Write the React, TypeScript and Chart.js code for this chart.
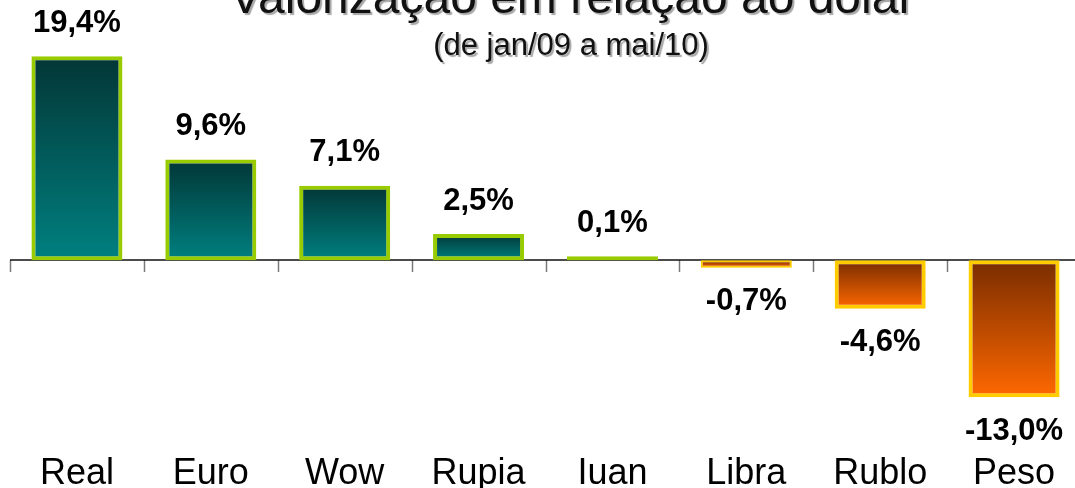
import React, { useEffect, useRef } from "react";
import { Chart, registerables } from "chart.js";

Chart.register(...registerables);

const categories = ["Real", "Euro", "Wow", "Rupia", "Iuan", "Libra", "Rublo", "Peso"];
const values = [19.4, 9.6, 7.1, 2.5, 0.1, -0.7, -4.6, -13.0];
const valueLabels = ["19,4%", "9,6%", "7,1%", "2,5%", "0,1%", "-0,7%", "-4,6%", "-13,0%"];
const titleText = "Valorização em relação ao dólar";
const subtitleText = "(de jan/09 a mai/10)";

const FONT = "'Liberation Sans', Arial, Helvetica, sans-serif";

const overlay = {
  id: "overlay",
  beforeDatasetsDraw(chart: any) {
    const { ctx, chartArea, scales } = chart;
    const x = scales.x;
    const y = scales.y;
    const y0 = Math.round(y.getPixelForValue(0));
    const w = x.getPixelForValue(1) - x.getPixelForValue(0);
    ctx.save();
    ctx.strokeStyle = "#7a7a7a";
    ctx.lineWidth = 1.5;
    for (let i = 0; i <= categories.length; i++) {
      const px = Math.round(x.getPixelForValue(i) - w / 2) + 0.5;
      ctx.beginPath();
      ctx.moveTo(px, y0);
      ctx.lineTo(px, y0 + 12);
      ctx.stroke();
    }
    ctx.strokeStyle = "#111";
    ctx.lineWidth = 1.5;
    ctx.beginPath();
    ctx.moveTo(chartArea.left, y0);
    ctx.lineTo(chartArea.right, y0);
    ctx.stroke();
    ctx.restore();
  },
  afterDatasetsDraw(chart: any) {
    const { ctx } = chart;
    const meta = chart.getDatasetMeta(0);
    ctx.save();
    ctx.fillStyle = "#000";
    ctx.font = `bold 31px ${FONT}`;
    ctx.textAlign = "center";
    ctx.textBaseline = "middle";
    meta.data.forEach((bar: any, i: number) => {
      const v = values[i];
      const ly = v >= 0 ? bar.y - 33 : bar.y + 34;
      ctx.fillText(valueLabels[i], bar.x, ly);
    });
    // titles with shadow
    ctx.shadowColor = "rgba(0,0,0,0.35)";
    ctx.shadowOffsetX = 2;
    ctx.shadowOffsetY = 2;
    ctx.shadowBlur = 1;
    ctx.textBaseline = "alphabetic";
    ctx.fillStyle = "#111";
    ctx.font = `48px ${FONT}`;
    ctx.fillText(titleText, 572, 13);
    ctx.font = `31px ${FONT}`;
    ctx.fillText(subtitleText, 571, 55);
    ctx.restore();
  },
};

function barFill(context: any) {
  const chart = context.chart;
  const { chartArea, scales } = chart;
  const i = context.dataIndex;
  const v = values[i] ?? 0;
  if (!chartArea || !scales || !scales.y) return v >= 0 ? "#006060" : "#c05000";
  const y0 = scales.y.getPixelForValue(0);
  const y1 = scales.y.getPixelForValue(v);
  const top = Math.min(y0, y1);
  const bottom = Math.max(y0, y1, top + 1);
  const g = chart.ctx.createLinearGradient(0, top, 0, bottom);
  if (v >= 0) {
    g.addColorStop(0, "#033636");
    g.addColorStop(1, "#008080");
  } else {
    g.addColorStop(0, "#782c00");
    g.addColorStop(1, "#ff6800");
  }
  return g;
}

export default function App() {
  const canvasRef = useRef<HTMLCanvasElement | null>(null);

  useEffect(() => {
    if (!canvasRef.current) return;
    const chart = new Chart(canvasRef.current, {
      type: "bar",
      data: {
        labels: categories,
        datasets: [
          {
            data: values,
            backgroundColor: barFill,
            borderColor: values.map((v) => (v >= 0 ? "#99cc00" : "#ffcc00")),
            borderWidth: (c: any) => (Math.abs(values[c.dataIndex] ?? 0) < 1 && Math.abs(values[c.dataIndex] ?? 0) > 0.3 ? 2 : 4),
            borderSkipped: false,
            minBarLength: 4,
            barPercentage: 0.68,
            categoryPercentage: 1,
          },
        ],
      },
      options: {
        animation: false,
        responsive: true,
        maintainAspectRatio: false,
        layout: { padding: { left: 10, right: 0, top: 10, bottom: -25 } },
        plugins: {
          legend: { display: false },
          tooltip: { enabled: false },
          title: { display: false },
        },
        scales: {
          x: {
            grid: { display: false, drawTicks: false },
            border: { display: false },
            ticks: {
              color: "#000",
              font: { family: FONT, size: 36, lineHeight: 1 },
              padding: 21,
              maxRotation: 0,
              autoSkip: false,
            },
          },
          y: {
            display: false,
            min: -16.6,
            max: 23.8,
          },
        },
      },
      plugins: [overlay],
    });
    return () => chart.destroy();
  }, []);

  return (
    <div
      style={{
        position: "absolute",
        left: 0,
        top: 0,
        width: 1075,
        height: 488,
        overflow: "hidden",
        background: "#fff",
      }}
    >
      <div style={{ position: "relative", width: 1081, height: 488 }}>
        <canvas ref={canvasRef} />
      </div>
    </div>
  );
}
